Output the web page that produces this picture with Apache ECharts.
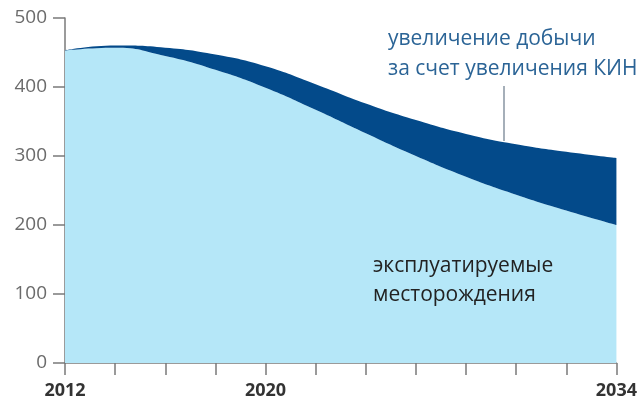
<!DOCTYPE html>
<html><head><meta charset="utf-8">
<script src="https://cdn.jsdelivr.net/npm/echarts@6/dist/echarts.min.js"></script>
<style>html,body{margin:0;padding:0;background:#fff}#c{width:640px;height:402px}</style>
</head><body><div id="c"></div>
<script>
const years = ['2012','2014','2016','2018','2020','2022','2024','2026','2028','2030','2032','2034'];
const shownYears = ['2012','2020','2034'];
const existing = [453,457,445,425,399,367,333,300,270,244,221,200];
const increase = [0,3,12,22,31,37,43,52,62,73,85,97];
const yTicks = [0,100,200,300,400,500];
const labelTop = ['увеличение добычи','за счет увеличения КИН'];
const labelBottom = ['эксплуатируемые','месторождения'];

const chart = echarts.init(document.getElementById('c'));
chart.setOption({
  animation:false,
  grid:{left:65,right:19,top:18,bottom:39},
  xAxis:{type:'category',data:years,boundaryGap:false,
    axisLine:{lineStyle:{color:'#7a7a7a',width:1.5}},
    axisTick:{show:true,length:12,interval:0,lineStyle:{color:'#7a7a7a',width:1.5}},
    axisLabel:{interval:0,margin:19,fontFamily:'Open Sans',fontWeight:'bold',fontSize:18,color:'#333',
      formatter:v=>shownYears.includes(v)?v:''}},
  yAxis:{type:'value',min:yTicks[0],max:yTicks[yTicks.length-1],interval:100,
    splitLine:{show:false},
    axisLine:{show:true,lineStyle:{color:'#7a7a7a',width:1.5}},
    axisTick:{show:true,length:12,lineStyle:{color:'#7a7a7a',width:1.5}},
    axisLabel:{margin:18,fontFamily:'Open Sans',fontSize:19,color:'#6b6b6b'}},
  series:[
    {type:'line',stack:'s',data:existing,smooth:0.5,symbol:'none',lineStyle:{width:0},
      areaStyle:{color:'#b5e7f8',opacity:1}},
    {type:'line',stack:'s',data:increase,smooth:0.5,symbol:'none',lineStyle:{width:0},
      areaStyle:{color:'#034a8a',opacity:1}}
  ],
  graphic:[
    {type:'text',z:100,left:388,top:24,style:{text:labelTop.join('\n'),fontFamily:'Open Sans',fontSize:21,lineHeight:30,fill:'#2b6496'}},
    {type:'line',z:100,shape:{x1:504,y1:86,x2:504,y2:141},style:{stroke:'#6a7a8a',lineWidth:1.2}},
    {type:'text',z:100,left:373,top:252,style:{text:labelBottom.join('\n'),fontFamily:'Open Sans',fontSize:21,lineHeight:29,fill:'#222'}}
  ]
});
</script></body></html>
